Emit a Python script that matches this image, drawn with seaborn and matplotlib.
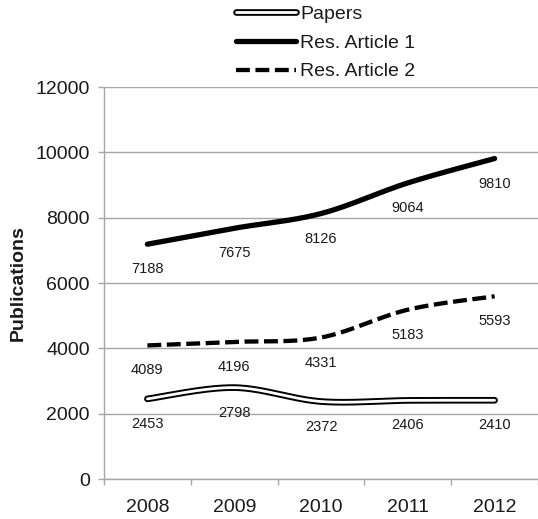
import numpy as np
import pandas as pd
import matplotlib
matplotlib.use("Agg")
import matplotlib.pyplot as plt
import matplotlib.patheffects as pe
import seaborn as sns
from matplotlib.lines import Line2D

years = ["2008", "2009", "2010", "2011", "2012"]
papers = [2453, 2798, 2372, 2406, 2410]
res_article_1 = [7188, 7675, 8126, 9064, 9810]
res_article_2 = [4089, 4196, 4331, 5183, 5593]
y_ticks = [0, 2000, 4000, 6000, 8000, 10000, 12000]

sns.set_theme(style="white")
plt.rcParams["font.family"] = ["Liberation Sans", "DejaVu Sans"]
plt.rcParams["lines.scale_dashes"] = False

GRID = "#a6a6a6"
TEXT = "#1a1a1a"


def smooth(values, n=40):
    """Bezier-smoothed curve through the points (Catmull-Rom control points)."""
    pts = np.column_stack([np.arange(len(values), dtype=float),
                           np.asarray(values, dtype=float)])
    ext = np.vstack([pts[0], pts, pts[-1]])
    t = np.linspace(0, 1, n)[:, None]
    out = []
    for i in range(len(pts) - 1):
        p0, p1, p2, p3 = ext[i], ext[i + 1], ext[i + 2], ext[i + 3]
        c1 = p1 + (p2 - p0) / 6.0
        c2 = p2 - (p3 - p1) / 6.0
        seg = ((1 - t) ** 3) * p1 + 3 * ((1 - t) ** 2) * t * c1 \
            + 3 * (1 - t) * t ** 2 * c2 + t ** 3 * p2
        out.append(seg if i == 0 else seg[1:])
    return np.vstack(out)


def curve_frame(values):
    c = smooth(values)
    return pd.DataFrame({"x": c[:, 0], "y": c[:, 1]})


hollow = [pe.Stroke(linewidth=4.8, foreground="black"), pe.Normal()]
style_papers = dict(color="white", lw=2.0, solid_capstyle="round",
                    path_effects=hollow)
style_r1 = dict(color="black", lw=3.8, solid_capstyle="round")
style_r2 = dict(color="black", lw=3.1, linestyle=(0, (10, 4)),
                dash_capstyle="butt")

fig = plt.figure(figsize=(5.38, 5.19), dpi=100)
ax = fig.add_axes([104 / 538, 1 - 479 / 519, 1 - 104 / 538, (479 - 87) / 519])

for values, style in ((papers, style_papers), (res_article_1, style_r1),
                      (res_article_2, style_r2)):
    sns.lineplot(data=curve_frame(values), x="x", y="y", sort=False,
                 estimator=None, ax=ax, **style)

# value labels under each point
for series in (papers, res_article_1, res_article_2):
    for i, v in enumerate(series):
        ax.annotate(str(v), (i, v), xytext=(0, -18), textcoords="offset points",
                    ha="center", va="center", fontsize=10.5, color=TEXT)

ax.set_xlim(-0.5, len(years) - 0.5)
ax.set_ylim(0, 12000)
ax.set_yticks(y_ticks)
ax.set_yticklabels([str(v) for v in y_ticks])
ax.set_xticks(range(len(years)))
ax.set_xticklabels(years)
ax.set_xticks(np.arange(-0.5, len(years)), minor=True)
ax.tick_params(axis="x", which="major", length=0, pad=14.4, labelsize=14,
               labelcolor=TEXT)
ax.tick_params(axis="x", which="minor", length=4.3, width=1, color=GRID,
               bottom=True)
ax.tick_params(axis="y", which="major", length=4.3, width=1, color=GRID,
               pad=6, labelsize=14, labelcolor=TEXT, left=True)

ax.yaxis.grid(True, color=GRID, lw=1)
ax.xaxis.grid(False)
ax.set_axisbelow(True)
for side in ("top", "right"):
    ax.spines[side].set_visible(False)
for side in ("left", "bottom"):
    ax.spines[side].set_color(GRID)
    ax.spines[side].set_linewidth(1)

ax.set_xlabel("")
ax.set_ylabel("Publications", fontsize=14, fontweight="bold", color=TEXT)
ax.yaxis.set_label_coords((27 - 104) / 434, 0.5)

handles = [Line2D([], [], **style_papers), Line2D([], [], **style_r1),
           Line2D([], [], **style_r2)]
leg = fig.legend(handles, ["Papers", "Res. Article 1", "Res. Article 2"],
                 loc="upper left", bbox_to_anchor=(236 / 538, 1 - 5 / 519),
                 frameon=False, fontsize=14, handlelength=3.1,
                 handletextpad=0.2, borderpad=0, labelspacing=0.58,
                 borderaxespad=0)
for txt in leg.get_texts():
    txt.set_color(TEXT)

fig.savefig("out.png", dpi=100)
